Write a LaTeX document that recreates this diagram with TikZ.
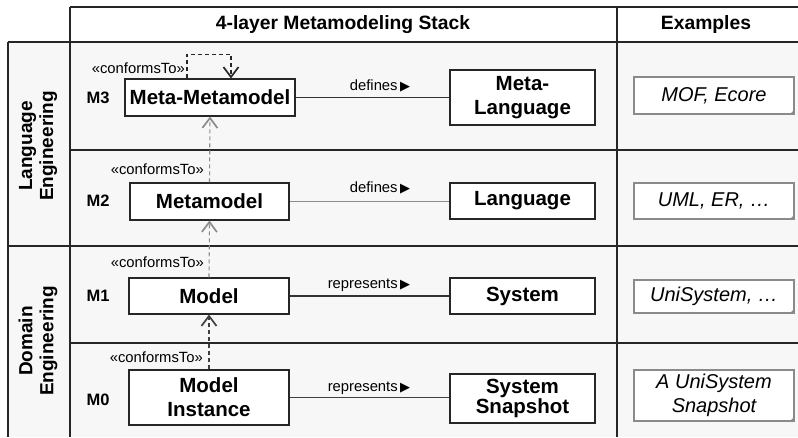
\documentclass[tikz,border=0pt]{standalone}
\usepackage{fontspec}
\setmainfont{Liberation Sans}
\newfontfamily\dejavu{DejaVu Sans}
\usetikzlibrary{arrows.meta}
\definecolor{bgc}{HTML}{F7F7F7}
\definecolor{notec}{HTML}{8A8A8A}
\tikzset{
  box/.style={draw=black!85, fill=white, line width=1.1pt, align=center, inner sep=0pt,
    font=\bfseries\fontsize{20.5}{24}\selectfont},
  notebox/.style={draw=notec, fill=white, line width=1.1pt, align=center, inner sep=0pt,
    font=\itshape\fontsize{20}{23.5}\selectfont},
  small/.style={font=\fontsize{14.8}{16}\selectfont, inner sep=0pt},
  lvl/.style={font=\bfseries\fontsize{16.5}{18}\selectfont, inner sep=0pt},
  hdr/.style={font=\bfseries\fontsize{19.3}{20}\selectfont, inner sep=0pt},
  side/.style={font=\bfseries\fontsize{19}{21}\selectfont, align=center, rotate=90, inner sep=0pt},
  grid/.style={line width=1.1pt, black!85},
  conn/.style={line width=1.1pt},
  conf/.style={line width=1.1pt, dash pattern=on 4pt off 3pt,
    -{Straight Barb[length=10pt,width=15pt,line width=1.7pt]}},
}
\newcommand{\tri}{\,{\dejavu\fontsize{13}{14}\selectfont ▶}}
\begin{document}
\begin{tikzpicture}[x=1pt,y=-1pt]
\useasboundingbox (0,0) rectangle (798,437);
\fill[bgc] (8,42) rectangle (798,437);
% grid
\draw[grid] (70,7) -- (798,7);
\draw[grid] (70,7) -- (70,437);
\draw[grid] (8,42) -- (798,42);
\draw[grid] (8,42) -- (8,437);
\draw[grid] (617,7) -- (617,437);
\draw[grid] (70,150) -- (798,150);
\draw[grid] (8,246) -- (798,246);
\draw[grid] (70,343) -- (798,343);
% headers
\node[hdr] (h1) at (343,25) {4-layer Metamodeling Stack};
\node[hdr] (h2) at (706,25) {Examples};
\node[side] (le) at (38,146) {Language\\Engineering};
\node[side] (de) at (38,341) {Domain\\Engineering};
% level labels
\node[lvl] (l3) at (98,97.5) {M3};
\node[lvl] (l2) at (98,201) {M2};
\node[lvl] (l1) at (98,296) {M1};
\node[lvl] (l0) at (98,400) {M0};
% boxes
\node[box, minimum width=170pt, minimum height=37pt] (mm) at (210,97.5) {Meta-Metamodel};
\node[box, minimum width=145pt, minimum height=55pt] (ml) at (522.5,97.5) {Meta-\\Language};
\node[box, minimum width=159pt, minimum height=37pt] (meta) at (209.5,201.5) {Metamodel};
\node[box, minimum width=145pt, minimum height=36pt] (lang) at (522.5,201) {Language};
\node[box, minimum width=160pt, minimum height=36pt] (model) at (209,296) {Model};
\node[box, minimum width=145pt, minimum height=36pt] (sys) at (522.5,296) {System};
\node[box, minimum width=160pt, minimum height=55pt] (mi) at (209,397.5) {Model\\Instance};
\node[box, minimum width=145pt, minimum height=49pt, font=\bfseries\fontsize{20.5}{20.5}\selectfont] (ss) at (522.5,398.5) {System\\Snapshot};
% example notes
\node[notebox, minimum width=160pt, minimum height=37pt] (e3) at (714,95.5) {MOF, Ecore};
\node[notebox, minimum width=160pt, minimum height=36pt] (e2) at (714,201) {UML, ER, …};
\node[notebox, minimum width=160pt, minimum height=33pt] (e1) at (714,296.5) {UniSystem, …};
\node[notebox, minimum width=160pt, minimum height=51pt] (e0) at (714,395.5) {A UniSystem\\Snapshot};
\foreach \n in {e3,e2,e1,e0}{
  \fill[notec] (\n.south east) -- ++(-5,0) -- ++(5,-5) -- cycle;
}
% connectors
\draw[conn, black!80] (mm.east) -- (ml.west |- mm.east);
\draw[conn, black!45] (meta.east) -- (lang.west |- meta.east);
\draw[conn, black!80] (model.east) -- (sys.west |- model.east);
\draw[conn, black!75] (mi.east) -- (ss.west |- mi.east);
\node[small] (d3) at (380,86) {defines\tri};
\node[small] (d2) at (380,188) {defines\tri};
\node[small] (d1) at (369,285) {represents\tri};
\node[small] (d0) at (369,388) {represents\tri};
% conforms arrows
\draw[conf, black!85] ([xshift=-23pt]mm.north) -- ++(0,-24) -| ([xshift=21pt]mm.north);
\draw[conf, black!45] (meta.north) -- (mm.south);
\draw[conf, black!45] (model.north) -- (meta.south);
\draw[conf, black!75] (mi.north) -- (model.south);
\node[small, anchor=east] (c3) at (185,68) {«conformsTo»};
\node[small, anchor=east] (c2) at (204,169) {«conformsTo»};
\node[small, anchor=east] (c1) at (204,262) {«conformsTo»};
\node[small, anchor=east] (c0) at (203,357) {«conformsTo»};
\end{tikzpicture}
\end{document}
